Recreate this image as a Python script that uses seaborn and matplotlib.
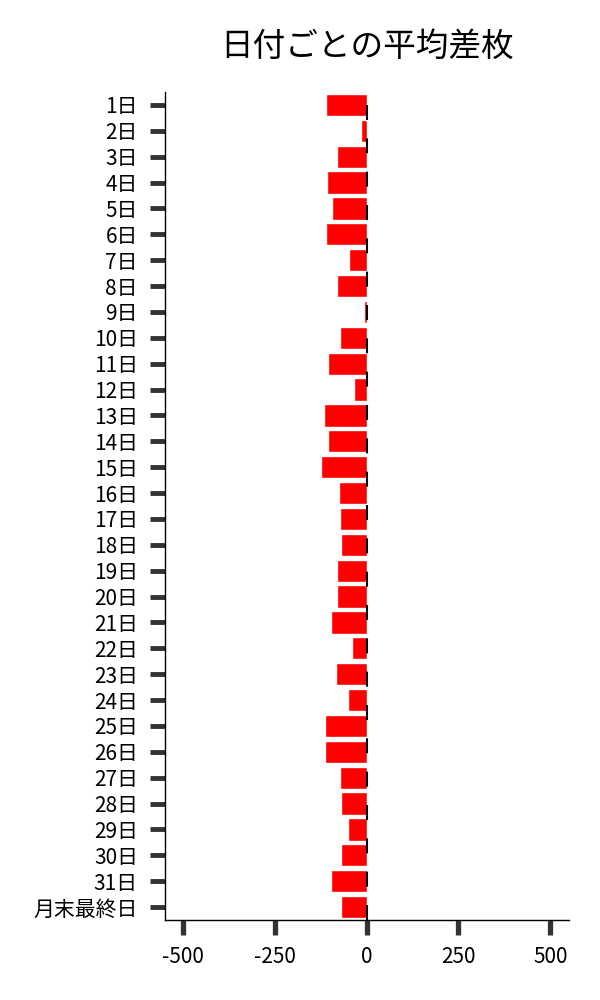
import matplotlib
matplotlib.use("Agg")
import matplotlib.pyplot as plt
import seaborn as sns
import pandas as pd

days = [f"{i}日" for i in range(1, 32)] + ["月末最終日"]
avg_diff = [-109, -15, -81, -108, -94, -111, -48, -81, -7, -73, -105, -34,
            -116, -105, -124, -75, -73, -70, -81, -81, -97, -40, -83,
            -51, -113, -113, -73, -70, -51, -70, -97, -70]
x_ticks = [-500, -250, 0, 250, 500]
title = "日付ごとの平均差枚"

sns.set_style("white")
plt.rcParams['font.family'] = ['Noto Sans CJK JP', 'DejaVu Sans']
plt.rcParams['axes.unicode_minus'] = False
plt.rcParams['text.color'] = 'black'
plt.rcParams['axes.labelcolor'] = 'black'
plt.rcParams['xtick.color'] = 'black'
plt.rcParams['ytick.color'] = 'black'

df = pd.DataFrame({"day": days, "diff": avg_diff})

fig = plt.figure(figsize=(6, 10), dpi=100)
ax = fig.add_axes([0.275, 0.08, 0.673, 0.828])
sns.barplot(data=df, x="diff", y="day", order=days, color="#ff0000",
            saturation=1, width=0.86, orient="h", ax=ax, errorbar=None)
ax.axvline(0, color="black", lw=1.5, linestyle=(0, (7.2, 8.8)), zorder=5)

ax.set_xlim(-548, 550)
ax.set_xticks(x_ticks)
ax.set_xticklabels([str(v) for v in x_ticks])
ax.set_xlabel("")
ax.set_ylabel("")
ax.set_title(title, fontsize=23.5, pad=26, color="black")
ax.tick_params(axis="both", which="major", length=11, width=3.5,
               color="#333333", labelcolor="black", labelsize=15, pad=8.5,
               direction="out", left=True, bottom=True)
ax.tick_params(axis="x", pad=8, width=3.8)
for s in ["top", "right"]:
    ax.spines[s].set_visible(False)
for s in ["left", "bottom"]:
    ax.spines[s].set_color("black")
    ax.spines[s].set_linewidth(1.0)

fig.savefig("out.png", dpi=100)
